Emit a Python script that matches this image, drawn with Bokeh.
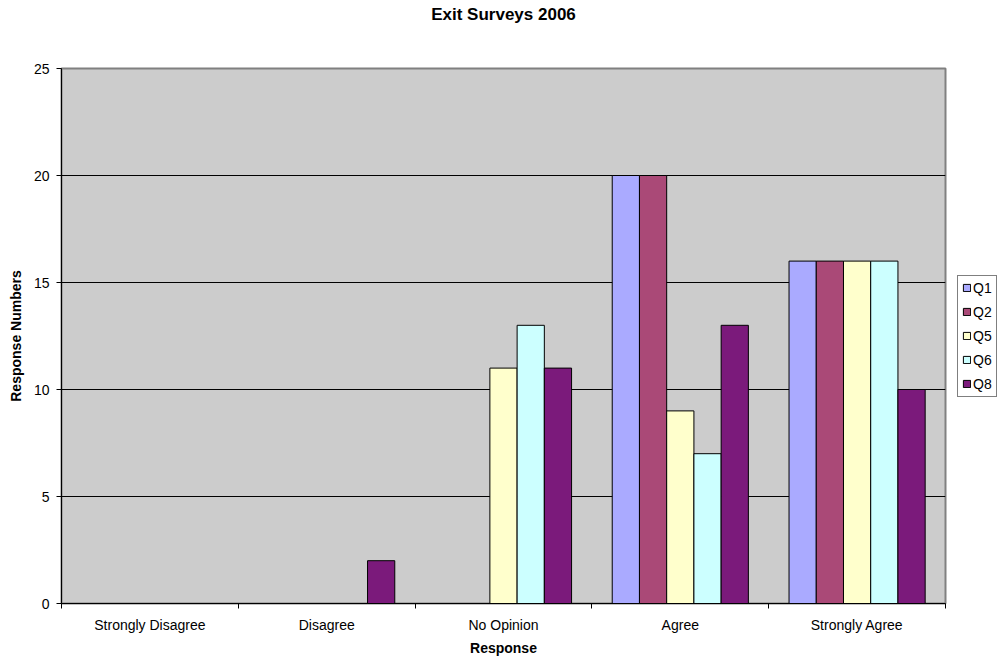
from bokeh.plotting import figure
from bokeh.models import (ColumnDataSource, FixedTicker, Legend, LegendItem,
                          LinearAxis, Range1d)
from bokeh.embed import file_html
from bokeh.resources import INLINE

# Survey responses per answer category
categories = ["Strongly Disagree", "Disagree", "No Opinion", "Agree", "Strongly Agree"]
series_names = ["Q1", "Q2", "Q5", "Q6", "Q8"]
q1 = [0, 0, 0, 20, 16]
q2 = [0, 0, 0, 20, 16]
q5 = [0, 0, 11, 9, 16]
q6 = [0, 0, 13, 7, 16]
q8 = [0, 2, 11, 13, 10]
series_values = [q1, q2, q5, q6, q8]
colors = ["#AAAAFF", "#AA4977", "#FFFFCC", "#CCFFFF", "#7B1A7B"]
y_ticks = [0, 5, 10, 15, 20, 25]
chart_title = "Exit Surveys 2006"

FONT = "Liberation Sans"

p = figure(frame_width=884, frame_height=535, output_backend="svg",
           toolbar_location=None,
           x_range=Range1d(0, len(categories)), y_range=Range1d(0, 25),
           min_border_left=61, min_border_right=0, min_border_top=68,
           min_border_bottom=54)
p.background_fill_color = "#CCCCCC"
p.border_fill_color = "white"
p.outline_line_color = "#808080"
p.outline_line_width = 2
p.title.visible = False

xa = p.below[0]
ya = p.left[0]

# Chart heading, carried by a bare axis above the frame
top_axis = LinearAxis(ticker=FixedTicker(ticks=[]), axis_line_color=None,
                      major_tick_line_color=None, minor_tick_line_color=None,
                      major_tick_out=0, major_tick_in=0, minor_tick_out=0,
                      major_label_standoff=0,
                      axis_label=chart_title, axis_label_standoff=45,
                      axis_label_text_font=FONT,
                      axis_label_text_font_size="17px",
                      axis_label_text_font_style="bold",
                      axis_label_text_color="black")
p.add_layout(top_axis, "above")

bar_w = 0.154
items = []
for k, (name, vals, col) in enumerate(zip(series_names, series_values, colors)):
    xs = [i + 0.5 + (k - 2) * bar_w for i in range(len(categories))]
    src = ColumnDataSource(dict(x=xs, top=vals))
    r = p.vbar(x="x", top="top", bottom=0, width=bar_w, source=src,
               fill_color=col, line_color="black", line_width=1)
    items.append(LegendItem(label=name, renderers=[r]))

# Category axis: labels at group centres, tick marks at group boundaries
xa.ticker = FixedTicker(ticks=[i + 0.5 for i in range(len(categories))],
                        minor_ticks=list(range(len(categories) + 1)))
xa.major_label_overrides = {i + 0.5: c for i, c in enumerate(categories)}
xa.major_tick_line_color = None
xa.major_tick_out = 5
xa.major_tick_in = 0
xa.minor_tick_line_color = "black"
xa.minor_tick_out = 5
xa.minor_tick_in = 0
xa.axis_line_color = "black"
xa.major_label_text_font = FONT
xa.major_label_text_font_size = "14px"
xa.major_label_text_color = "black"
xa.major_label_standoff = 8
xa.axis_label = "Response"
xa.axis_label_text_font = FONT
xa.axis_label_text_font_size = "14px"
xa.axis_label_text_font_style = "bold"
xa.axis_label_text_color = "black"
xa.axis_label_standoff = 4

ya.ticker = FixedTicker(ticks=y_ticks)
ya.minor_tick_line_color = None
ya.major_tick_out = 5
ya.major_tick_in = 0
ya.axis_line_color = "black"
ya.major_tick_line_color = "black"
ya.major_label_text_font = FONT
ya.major_label_text_font_size = "14px"
ya.major_label_text_color = "black"
ya.major_label_standoff = 7
ya.axis_label = "Response Numbers"
ya.axis_label_text_font = FONT
ya.axis_label_text_font_size = "14px"
ya.axis_label_text_font_style = "bold"
ya.axis_label_text_color = "black"
ya.axis_label_standoff = 7

p.xgrid.grid_line_color = None
p.ygrid.ticker = FixedTicker(ticks=y_ticks[1:-1])
p.ygrid.grid_line_color = "black"
p.ygrid.grid_line_width = 1

# Legend in the right-hand panel, next to the frame
legend = Legend(items=items, location="left", orientation="vertical")
legend.label_text_font = FONT
legend.label_text_font_size = "14px"
legend.label_text_color = "black"
legend.glyph_width = 9
legend.glyph_height = 9
legend.label_standoff = 2
legend.label_width = 12
legend.spacing = 8
legend.padding = 4
legend.margin = 12
legend.label_height = 14
legend.border_line_color = "black"
legend.border_line_width = 1
legend.background_fill_color = "white"
p.add_layout(legend, "right")

open("out.html", "w").write(file_html(p, INLINE))
